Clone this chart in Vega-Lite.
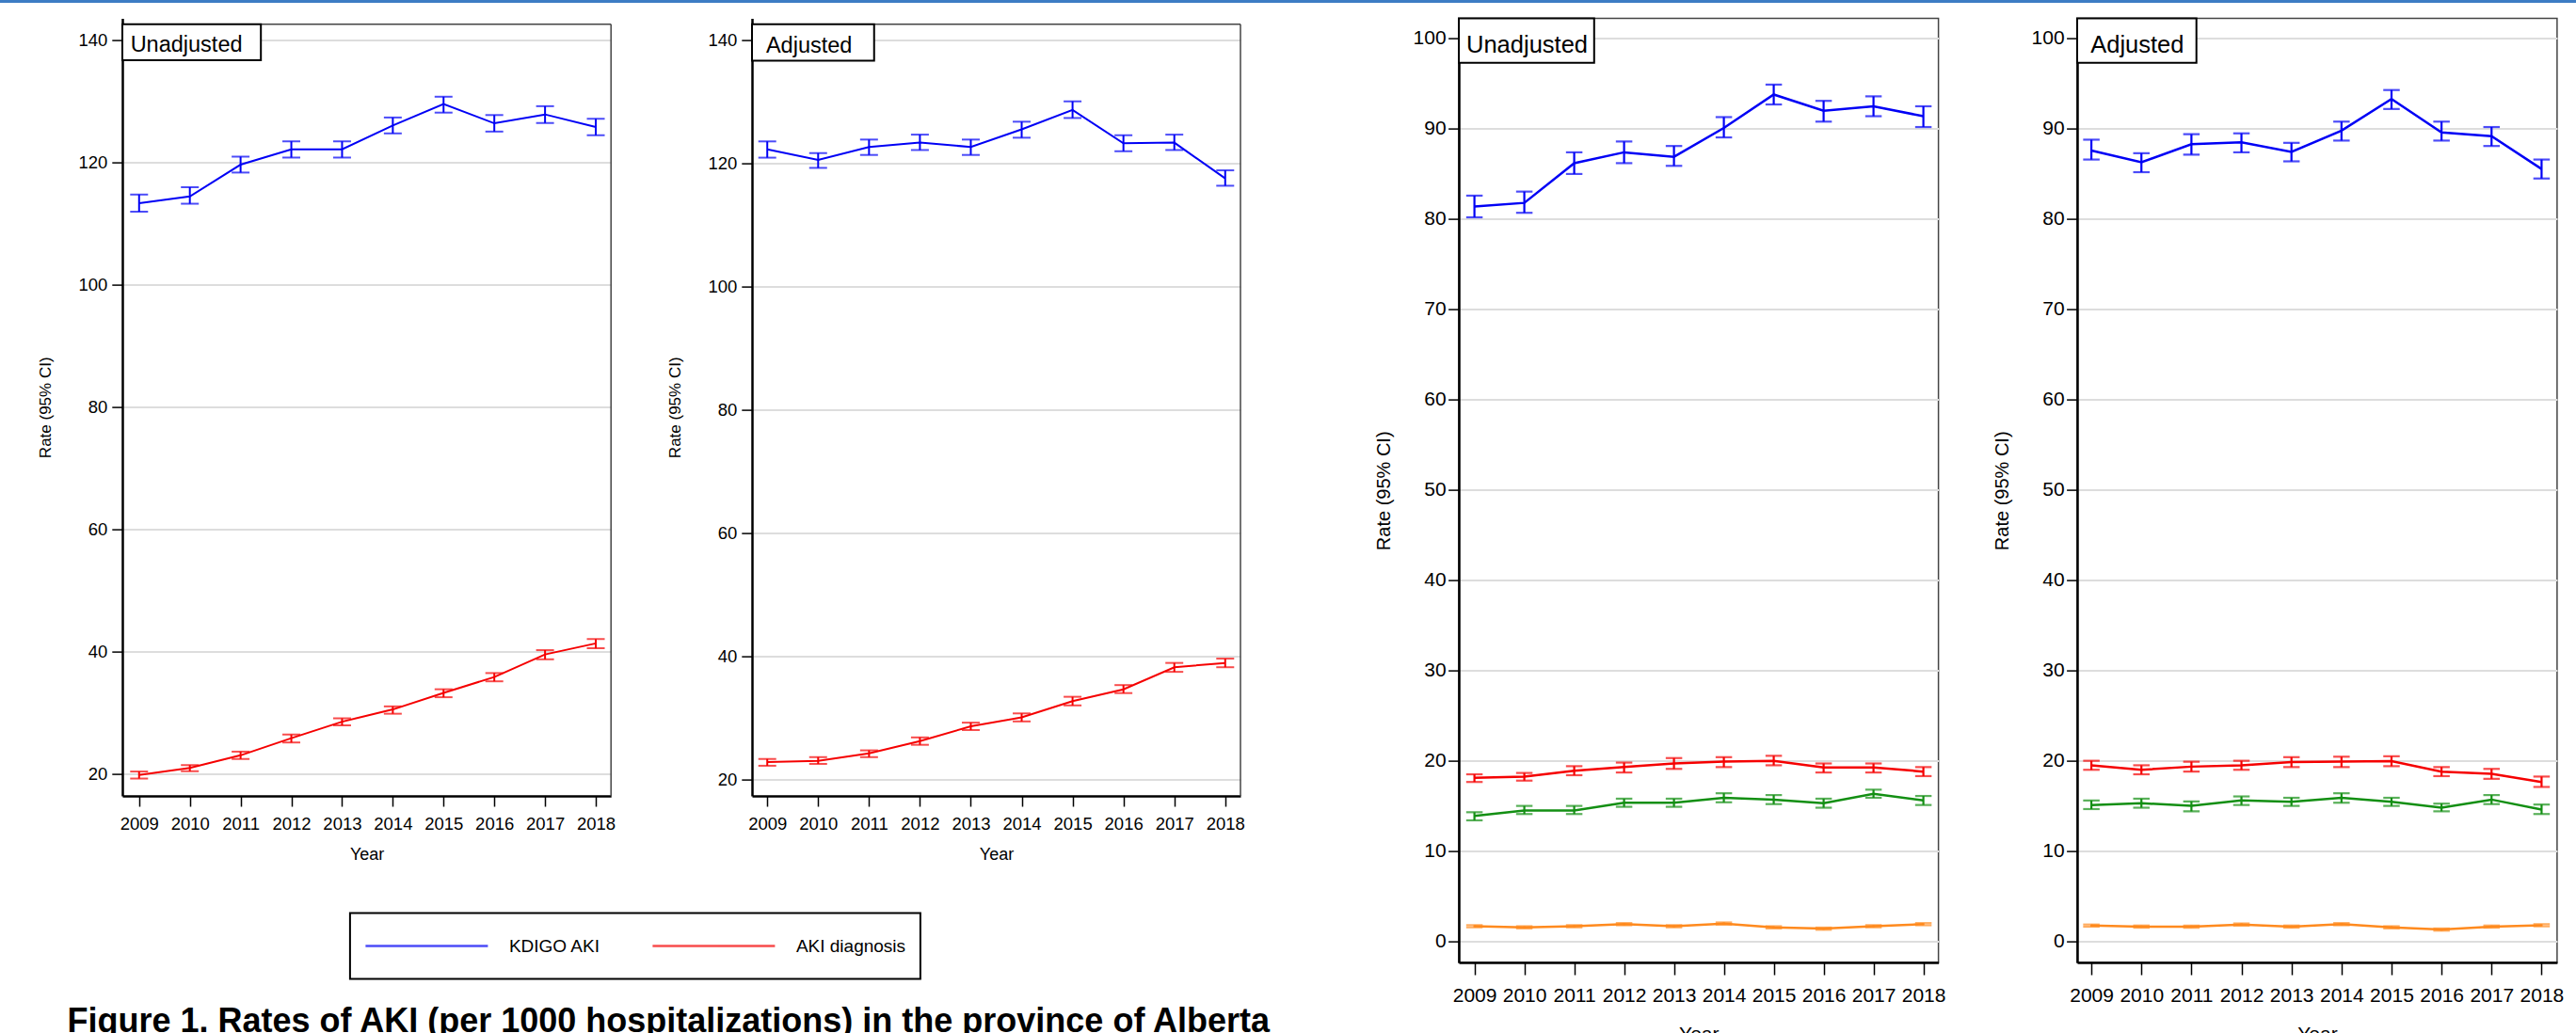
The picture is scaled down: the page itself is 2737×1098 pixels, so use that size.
{
"$schema": "https://vega.github.io/schema/vega-lite/v6.json",
"background": "white",
"padding": 0,
"autosize": {"type": "pad"},
"bounds": "flush",
"spacing": 16.6,
"resolve": {"scale": {"color": "independent"}, "legend": {"color": "independent"}},
"datasets": {
"leftUnadj": [
{"series":"KDIGO AKI","year":2009,"rate":113.4,"lo":112.0,"hi":114.8},
{"series":"KDIGO AKI","year":2010,"rate":114.5,"lo":113.3,"hi":116.0},
{"series":"KDIGO AKI","year":2011,"rate":119.7,"lo":118.4,"hi":121.0},
{"series":"KDIGO AKI","year":2012,"rate":122.2,"lo":120.85,"hi":123.5},
{"series":"KDIGO AKI","year":2013,"rate":122.2,"lo":120.85,"hi":123.5},
{"series":"KDIGO AKI","year":2014,"rate":126.1,"lo":124.8,"hi":127.4},
{"series":"KDIGO AKI","year":2015,"rate":129.6,"lo":128.2,"hi":130.8},
{"series":"KDIGO AKI","year":2016,"rate":126.45,"lo":125.1,"hi":127.8},
{"series":"KDIGO AKI","year":2017,"rate":127.9,"lo":126.5,"hi":129.25},
{"series":"KDIGO AKI","year":2018,"rate":125.85,"lo":124.5,"hi":127.2},
{"series":"AKI diagnosis","year":2009,"rate":19.9,"lo":19.3,"hi":20.45},
{"series":"AKI diagnosis","year":2010,"rate":21.05,"lo":20.5,"hi":21.5},
{"series":"AKI diagnosis","year":2011,"rate":23.1,"lo":22.5,"hi":23.7},
{"series":"AKI diagnosis","year":2012,"rate":25.9,"lo":25.2,"hi":26.5},
{"series":"AKI diagnosis","year":2013,"rate":28.6,"lo":28.0,"hi":29.15},
{"series":"AKI diagnosis","year":2014,"rate":30.6,"lo":29.9,"hi":31.1},
{"series":"AKI diagnosis","year":2015,"rate":33.3,"lo":32.6,"hi":33.9},
{"series":"AKI diagnosis","year":2016,"rate":35.9,"lo":35.2,"hi":36.55},
{"series":"AKI diagnosis","year":2017,"rate":39.6,"lo":38.8,"hi":40.3},
{"series":"AKI diagnosis","year":2018,"rate":41.4,"lo":40.6,"hi":42.1}
],
"leftAdj": [
{"series":"KDIGO AKI","year":2009,"rate":122.3,"lo":120.96,"hi":123.6},
{"series":"KDIGO AKI","year":2010,"rate":120.6,"lo":119.3,"hi":121.7},
{"series":"KDIGO AKI","year":2011,"rate":122.7,"lo":121.4,"hi":123.9},
{"series":"KDIGO AKI","year":2012,"rate":123.4,"lo":122.2,"hi":124.7},
{"series":"KDIGO AKI","year":2013,"rate":122.7,"lo":121.4,"hi":123.9},
{"series":"KDIGO AKI","year":2014,"rate":125.55,"lo":124.2,"hi":126.8},
{"series":"KDIGO AKI","year":2015,"rate":128.7,"lo":127.4,"hi":130.1},
{"series":"KDIGO AKI","year":2016,"rate":123.3,"lo":122.0,"hi":124.6},
{"series":"KDIGO AKI","year":2017,"rate":123.4,"lo":122.2,"hi":124.7},
{"series":"KDIGO AKI","year":2018,"rate":117.6,"lo":116.4,"hi":118.9},
{"series":"AKI diagnosis","year":2009,"rate":22.8,"lo":22.2,"hi":23.3},
{"series":"AKI diagnosis","year":2010,"rate":23.0,"lo":22.5,"hi":23.6},
{"series":"AKI diagnosis","year":2011,"rate":24.2,"lo":23.6,"hi":24.7},
{"series":"AKI diagnosis","year":2012,"rate":26.2,"lo":25.6,"hi":26.8},
{"series":"AKI diagnosis","year":2013,"rate":28.6,"lo":28.0,"hi":29.2},
{"series":"AKI diagnosis","year":2014,"rate":30.05,"lo":29.4,"hi":30.7},
{"series":"AKI diagnosis","year":2015,"rate":32.7,"lo":32.0,"hi":33.4},
{"series":"AKI diagnosis","year":2016,"rate":34.6,"lo":34.0,"hi":35.3},
{"series":"AKI diagnosis","year":2017,"rate":38.2,"lo":37.45,"hi":38.9},
{"series":"AKI diagnosis","year":2018,"rate":38.9,"lo":38.2,"hi":39.6}
],
"rightUnadj": [
{"series":"Stage 1","year":2009,"rate":81.4,"lo":80.2,"hi":82.6},
{"series":"Stage 1","year":2010,"rate":81.8,"lo":80.7,"hi":83.05},
{"series":"Stage 1","year":2011,"rate":86.2,"lo":85.0,"hi":87.4},
{"series":"Stage 1","year":2012,"rate":87.4,"lo":86.2,"hi":88.6},
{"series":"Stage 1","year":2013,"rate":86.9,"lo":85.9,"hi":88.1},
{"series":"Stage 1","year":2014,"rate":90.1,"lo":89.05,"hi":91.3},
{"series":"Stage 1","year":2015,"rate":93.8,"lo":92.7,"hi":94.9},
{"series":"Stage 1","year":2016,"rate":92.0,"lo":90.8,"hi":93.1},
{"series":"Stage 1","year":2017,"rate":92.5,"lo":91.4,"hi":93.6},
{"series":"Stage 1","year":2018,"rate":91.4,"lo":90.2,"hi":92.5},
{"series":"Stage 2","year":2009,"rate":18.1,"lo":17.65,"hi":18.5},
{"series":"Stage 2","year":2010,"rate":18.25,"lo":17.8,"hi":18.65},
{"series":"Stage 2","year":2011,"rate":18.9,"lo":18.4,"hi":19.4},
{"series":"Stage 2","year":2012,"rate":19.3,"lo":18.7,"hi":19.8},
{"series":"Stage 2","year":2013,"rate":19.7,"lo":19.1,"hi":20.3},
{"series":"Stage 2","year":2014,"rate":19.9,"lo":19.3,"hi":20.4},
{"series":"Stage 2","year":2015,"rate":20.0,"lo":19.5,"hi":20.55},
{"series":"Stage 2","year":2016,"rate":19.25,"lo":18.7,"hi":19.7},
{"series":"Stage 2","year":2017,"rate":19.25,"lo":18.7,"hi":19.7},
{"series":"Stage 2","year":2018,"rate":18.8,"lo":18.3,"hi":19.3},
{"series":"Stage 3","year":2009,"rate":13.9,"lo":13.4,"hi":14.3},
{"series":"Stage 3","year":2010,"rate":14.5,"lo":14.1,"hi":15.0},
{"series":"Stage 3","year":2011,"rate":14.5,"lo":14.1,"hi":15.0},
{"series":"Stage 3","year":2012,"rate":15.35,"lo":14.9,"hi":15.8},
{"series":"Stage 3","year":2013,"rate":15.35,"lo":14.9,"hi":15.8},
{"series":"Stage 3","year":2014,"rate":15.9,"lo":15.4,"hi":16.4},
{"series":"Stage 3","year":2015,"rate":15.7,"lo":15.2,"hi":16.2},
{"series":"Stage 3","year":2016,"rate":15.3,"lo":14.8,"hi":15.8},
{"series":"Stage 3","year":2017,"rate":16.35,"lo":15.9,"hi":16.8},
{"series":"Stage 3","year":2018,"rate":15.6,"lo":15.1,"hi":16.1},
{"series":"AKI-D","year":2009,"rate":1.67,"lo":1.55,"hi":1.79},
{"series":"AKI-D","year":2010,"rate":1.55,"lo":1.43,"hi":1.67},
{"series":"AKI-D","year":2011,"rate":1.67,"lo":1.55,"hi":1.79},
{"series":"AKI-D","year":2012,"rate":1.9,"lo":1.78,"hi":2.02},
{"series":"AKI-D","year":2013,"rate":1.67,"lo":1.55,"hi":1.79},
{"series":"AKI-D","year":2014,"rate":1.97,"lo":1.85,"hi":2.09},
{"series":"AKI-D","year":2015,"rate":1.55,"lo":1.43,"hi":1.67},
{"series":"AKI-D","year":2016,"rate":1.4,"lo":1.28,"hi":1.52},
{"series":"AKI-D","year":2017,"rate":1.67,"lo":1.55,"hi":1.79},
{"series":"AKI-D","year":2018,"rate":1.9,"lo":1.78,"hi":2.02}
],
"rightAdj": [
{"series":"Stage 1","year":2009,"rate":87.6,"lo":86.6,"hi":88.8},
{"series":"Stage 1","year":2010,"rate":86.3,"lo":85.2,"hi":87.3},
{"series":"Stage 1","year":2011,"rate":88.3,"lo":87.15,"hi":89.4},
{"series":"Stage 1","year":2012,"rate":88.5,"lo":87.4,"hi":89.5},
{"series":"Stage 1","year":2013,"rate":87.45,"lo":86.4,"hi":88.45},
{"series":"Stage 1","year":2014,"rate":89.8,"lo":88.7,"hi":90.8},
{"series":"Stage 1","year":2015,"rate":93.3,"lo":92.2,"hi":94.3},
{"series":"Stage 1","year":2016,"rate":89.6,"lo":88.7,"hi":90.8},
{"series":"Stage 1","year":2017,"rate":89.2,"lo":88.1,"hi":90.2},
{"series":"Stage 1","year":2018,"rate":85.55,"lo":84.5,"hi":86.6},
{"series":"Stage 2","year":2009,"rate":19.5,"lo":19.0,"hi":20.0},
{"series":"Stage 2","year":2010,"rate":19.0,"lo":18.5,"hi":19.5},
{"series":"Stage 2","year":2011,"rate":19.35,"lo":18.8,"hi":19.9},
{"series":"Stage 2","year":2012,"rate":19.5,"lo":19.0,"hi":20.0},
{"series":"Stage 2","year":2013,"rate":19.85,"lo":19.3,"hi":20.4},
{"series":"Stage 2","year":2014,"rate":19.9,"lo":19.3,"hi":20.45},
{"series":"Stage 2","year":2015,"rate":19.95,"lo":19.4,"hi":20.5},
{"series":"Stage 2","year":2016,"rate":18.8,"lo":18.3,"hi":19.3},
{"series":"Stage 2","year":2017,"rate":18.55,"lo":18.0,"hi":19.1},
{"series":"Stage 2","year":2018,"rate":17.65,"lo":17.1,"hi":18.25},
{"series":"Stage 3","year":2009,"rate":15.1,"lo":14.65,"hi":15.6},
{"series":"Stage 3","year":2010,"rate":15.3,"lo":14.8,"hi":15.8},
{"series":"Stage 3","year":2011,"rate":15.0,"lo":14.4,"hi":15.5},
{"series":"Stage 3","year":2012,"rate":15.6,"lo":15.1,"hi":16.05},
{"series":"Stage 3","year":2013,"rate":15.45,"lo":15.0,"hi":15.9},
{"series":"Stage 3","year":2014,"rate":15.9,"lo":15.35,"hi":16.4},
{"series":"Stage 3","year":2015,"rate":15.45,"lo":15.0,"hi":15.9},
{"series":"Stage 3","year":2016,"rate":14.8,"lo":14.4,"hi":15.25},
{"series":"Stage 3","year":2017,"rate":15.7,"lo":15.2,"hi":16.2},
{"series":"Stage 3","year":2018,"rate":14.6,"lo":14.1,"hi":15.15},
{"series":"AKI-D","year":2009,"rate":1.74,"lo":1.62,"hi":1.86},
{"series":"AKI-D","year":2010,"rate":1.63,"lo":1.51,"hi":1.75},
{"series":"AKI-D","year":2011,"rate":1.63,"lo":1.51,"hi":1.75},
{"series":"AKI-D","year":2012,"rate":1.86,"lo":1.74,"hi":1.98},
{"series":"AKI-D","year":2013,"rate":1.63,"lo":1.51,"hi":1.75},
{"series":"AKI-D","year":2014,"rate":1.9,"lo":1.78,"hi":2.02},
{"series":"AKI-D","year":2015,"rate":1.55,"lo":1.43,"hi":1.67},
{"series":"AKI-D","year":2016,"rate":1.3,"lo":1.18,"hi":1.42},
{"series":"AKI-D","year":2017,"rate":1.63,"lo":1.51,"hi":1.75},
{"series":"AKI-D","year":2018,"rate":1.78,"lo":1.66,"hi":1.9}
]
},
"vconcat": [
{"width": 2737, "height": 3, "data": {"values": []}, "mark": "text", "view": {"fill": "#3d7cc4", "stroke": null}},
{"hconcat": [
 {"width": 128.5, "height": 1, "data": {"values": []}, "mark": "text", "view": {"stroke": null}},
 {"width": 519.2, "height": 826.4, "data": {"name": "leftUnadj"},
  "view": {"stroke": null},
  "title": {"text": "Figure 1. Rates of AKI (per 1000 hospitalizations) in the province of Alberta", "orient": "bottom", "anchor": "start", "frame": "group", "dx": -58.5, "offset": 27, "fontSize": 36, "fontWeight": "bold", "font": "Liberation Sans", "color": "black"},
  "layer": [
   {"mark": {"type": "line", "strokeWidth": 2}, "encoding": {"x": {"field": "year", "type": "quantitative", "title": "Year", "scale": {"domain": [2008.67, 2018.3], "nice": false, "zero": false}, "axis": {"values": [2009,2010,2011,2012,2013,2014,2015,2016,2017,2018], "format": "d", "grid": false, "tickSize": 11, "labelPadding": 9, "labelFontSize": 18.5, "titleFontSize": 18, "titlePadding": 15}}, "y": {"field": "rate", "type": "quantitative", "title": "Rate (95% CI)", "scale": {"domain": [16.46, 143.6], "nice": false, "zero": false}, "axis": {"values": [20,40,60,80,100,120,140], "grid": true, "tickSize": 11.2, "labelPadding": 5, "labelFontSize": 18.5, "titleFontSize": 17, "titlePadding": 25}}, "color": {"field": "series", "type": "nominal", "scale": {"domain": ["KDIGO AKI","AKI diagnosis"], "range": ["#0000f5","#f50000"]}, "legend": {"orient": "none", "legendX": 241.9, "legendY": 951, "direction": "horizontal", "title": null, "symbolType": "stroke", "symbolSize": 16900, "symbolStrokeWidth": 2.5, "clipHeight": 39.4, "padding": 15, "columnPadding": 53, "labelOffset": 21, "labelFontSize": 19, "labelColor": "black", "labelLimit": 300, "strokeColor": "black"}}}},
   {"mark": {"type": "rule", "strokeWidth": 2}, "encoding": {"x": {"field": "year", "type": "quantitative"}, "y": {"field": "lo", "type": "quantitative"}, "y2": {"field": "hi"}, "color": {"field": "series", "type": "nominal"}}},
   {"mark": {"type": "tick", "orient": "horizontal", "size": 19, "thickness": 2}, "encoding": {"x": {"field": "year", "type": "quantitative"}, "y": {"field": "lo", "type": "quantitative"}, "color": {"field": "series", "type": "nominal"}}},
   {"mark": {"type": "tick", "orient": "horizontal", "size": 19, "thickness": 2}, "encoding": {"x": {"field": "year", "type": "quantitative"}, "y": {"field": "hi", "type": "quantitative"}, "color": {"field": "series", "type": "nominal"}}},
   {"transform": [{"filter": "datum.year == 2009 && datum.series == 'KDIGO AKI'"}], "mark": {"type": "rule", "color": "#444444", "strokeWidth": 1.5}, "encoding": {"x": {"datum": 2008.67, "type": "quantitative"}, "x2": {"datum": 2018.3}, "y": {"datum": 142.66, "type": "quantitative"}}},
   {"transform": [{"filter": "datum.year == 2009 && datum.series == 'KDIGO AKI'"}], "mark": {"type": "rule", "color": "#444444", "strokeWidth": 1.5}, "encoding": {"x": {"datum": 2018.3, "type": "quantitative"}, "y": {"datum": 142.66, "type": "quantitative"}, "y2": {"datum": 16.46}}},
   {"transform": [{"filter": "datum.year == 2009 && datum.series == 'KDIGO AKI'"}], "mark": {"type": "rect", "fill": "white", "stroke": "black", "strokeWidth": 2}, "encoding": {"x": {"datum": 2008.67, "type": "quantitative"}, "x2": {"datum": 2011.40}, "y": {"datum": 142.66, "type": "quantitative"}, "y2": {"datum": 136.77}}},
   {"transform": [{"filter": "datum.year == 2009 && datum.series == 'KDIGO AKI'"}], "mark": {"type": "text", "align": "left", "baseline": "alphabetic", "fontSize": 23.5, "color": "black"}, "encoding": {"x": {"datum": 2008.83, "type": "quantitative"}, "y": {"datum": 138.15, "type": "quantitative"}, "text": {"value": "Unadjusted"}}}
  ]},
 {"width": 146.3, "height": 1, "data": {"values": []}, "mark": "text", "view": {"stroke": null}},
 {"width": 519, "height": 826.4, "data": {"name": "leftAdj"},
  "view": {"stroke": null},
  "layer": [
   {"mark": {"type": "line", "strokeWidth": 2}, "encoding": {"x": {"field": "year", "type": "quantitative", "title": "Year", "scale": {"domain": [2008.70, 2018.3], "nice": false, "zero": false}, "axis": {"values": [2009,2010,2011,2012,2013,2014,2015,2016,2017,2018], "format": "d", "grid": false, "tickSize": 11, "labelPadding": 9, "labelFontSize": 18.5, "titleFontSize": 18, "titlePadding": 15}}, "y": {"field": "rate", "type": "quantitative", "title": "Rate (95% CI)", "scale": {"domain": [17.3, 143.57], "nice": false, "zero": false}, "axis": {"values": [20,40,60,80,100,120,140], "grid": true, "tickSize": 11.2, "labelPadding": 5, "labelFontSize": 18.5, "titleFontSize": 17, "titlePadding": 25}}, "color": {"field": "series", "type": "nominal", "scale": {"domain": ["KDIGO AKI","AKI diagnosis"], "range": ["#0000f5","#f50000"]}, "legend": null}}},
   {"mark": {"type": "rule", "strokeWidth": 2}, "encoding": {"x": {"field": "year", "type": "quantitative"}, "y": {"field": "lo", "type": "quantitative"}, "y2": {"field": "hi"}, "color": {"field": "series", "type": "nominal", "legend": null}}},
   {"mark": {"type": "tick", "orient": "horizontal", "size": 19, "thickness": 2}, "encoding": {"x": {"field": "year", "type": "quantitative"}, "y": {"field": "lo", "type": "quantitative"}, "color": {"field": "series", "type": "nominal", "legend": null}}},
   {"mark": {"type": "tick", "orient": "horizontal", "size": 19, "thickness": 2}, "encoding": {"x": {"field": "year", "type": "quantitative"}, "y": {"field": "hi", "type": "quantitative"}, "color": {"field": "series", "type": "nominal", "legend": null}}},
   {"transform": [{"filter": "datum.year == 2009 && datum.series == 'KDIGO AKI'"}], "mark": {"type": "rule", "color": "#444444", "strokeWidth": 1.5}, "encoding": {"x": {"datum": 2008.70, "type": "quantitative"}, "x2": {"datum": 2018.3}, "y": {"datum": 142.64, "type": "quantitative"}}},
   {"transform": [{"filter": "datum.year == 2009 && datum.series == 'KDIGO AKI'"}], "mark": {"type": "rule", "color": "#444444", "strokeWidth": 1.5}, "encoding": {"x": {"datum": 2018.3, "type": "quantitative"}, "y": {"datum": 142.64, "type": "quantitative"}, "y2": {"datum": 17.3}}},
   {"transform": [{"filter": "datum.year == 2009 && datum.series == 'KDIGO AKI'"}], "mark": {"type": "rect", "fill": "white", "stroke": "black", "strokeWidth": 2}, "encoding": {"x": {"datum": 2008.70, "type": "quantitative"}, "x2": {"datum": 2011.10}, "y": {"datum": 142.64, "type": "quantitative"}, "y2": {"datum": 136.70}}},
   {"transform": [{"filter": "datum.year == 2009 && datum.series == 'KDIGO AKI'"}], "mark": {"type": "text", "align": "left", "baseline": "alphabetic", "fontSize": 23.5, "color": "black"}, "encoding": {"x": {"datum": 2008.976, "type": "quantitative"}, "y": {"datum": 138.01, "type": "quantitative"}, "text": {"value": "Adjusted"}}}
  ]},
 {"width": 229.4, "height": 1, "data": {"values": []}, "mark": "text", "view": {"stroke": null}},
 {"width": 509.6, "height": 1003.4, "data": {"name": "rightUnadj"},
  "layer": [
   {"mark": {"type": "line", "strokeWidth": 2.5}, "encoding": {"x": {"field": "year", "type": "quantitative", "title": "Year", "scale": {"domain": [2008.687, 2018.302], "nice": false, "zero": false}, "axis": {"values": [2009,2010,2011,2012,2013,2014,2015,2016,2017,2018], "format": "d", "grid": false, "tickSize": 13, "labelPadding": 11.4, "labelFontSize": 21, "titleFontSize": 21, "titlePadding": 20}}, "y": {"field": "rate", "type": "quantitative", "title": "Rate (95% CI)", "scale": {"domain": [-2.34, 102.23], "nice": false, "zero": false}, "axis": {"values": [0,10,20,30,40,50,60,70,80,90,100], "grid": true, "tickSize": 11.4, "labelPadding": 2.5, "labelFontSize": 21, "titleFontSize": 20, "titlePadding": 21}}, "color": {"field": "series", "type": "nominal", "scale": {"domain": ["Stage 1","Stage 2","Stage 3","AKI-D"], "range": ["#0000f5","#f50000","#138f13","#ff8a1e"]}, "legend": null}}},
   {"mark": {"type": "rule", "strokeWidth": 2.2}, "encoding": {"x": {"field": "year", "type": "quantitative"}, "y": {"field": "lo", "type": "quantitative"}, "y2": {"field": "hi"}, "color": {"field": "series", "type": "nominal", "legend": null}}},
   {"mark": {"type": "tick", "orient": "horizontal", "size": 17.5, "thickness": 2.2}, "encoding": {"x": {"field": "year", "type": "quantitative"}, "y": {"field": "lo", "type": "quantitative"}, "color": {"field": "series", "type": "nominal", "legend": null}}},
   {"mark": {"type": "tick", "orient": "horizontal", "size": 17.5, "thickness": 2.2}, "encoding": {"x": {"field": "year", "type": "quantitative"}, "y": {"field": "hi", "type": "quantitative"}, "color": {"field": "series", "type": "nominal", "legend": null}}},
   {"transform": [{"filter": "datum.year == 2009 && datum.series == 'Stage 1'"}], "mark": {"type": "rect", "fill": "white", "stroke": "black", "strokeWidth": 2}, "encoding": {"x": {"datum": 2008.687, "type": "quantitative"}, "x2": {"datum": 2011.40}, "y": {"datum": 102.23, "type": "quantitative"}, "y2": {"datum": 97.31}}},
   {"transform": [{"filter": "datum.year == 2009 && datum.series == 'Stage 1'"}], "mark": {"type": "text", "align": "left", "baseline": "alphabetic", "fontSize": 25.5, "color": "black"}, "encoding": {"x": {"datum": 2008.838, "type": "quantitative"}, "y": {"datum": 98.44, "type": "quantitative"}, "text": {"value": "Unadjusted"}}}
  ]},
 {"width": 144.6, "height": 1, "data": {"values": []}, "mark": "text", "view": {"stroke": null}},
 {"width": 509.9, "height": 1003.4, "data": {"name": "rightAdj"},
  "layer": [
   {"mark": {"type": "line", "strokeWidth": 2.5}, "encoding": {"x": {"field": "year", "type": "quantitative", "title": "Year", "scale": {"domain": [2008.716, 2018.31], "nice": false, "zero": false}, "axis": {"values": [2009,2010,2011,2012,2013,2014,2015,2016,2017,2018], "format": "d", "grid": false, "tickSize": 13, "labelPadding": 11.4, "labelFontSize": 21, "titleFontSize": 21, "titlePadding": 20}}, "y": {"field": "rate", "type": "quantitative", "title": "Rate (95% CI)", "scale": {"domain": [-2.34, 102.23], "nice": false, "zero": false}, "axis": {"values": [0,10,20,30,40,50,60,70,80,90,100], "grid": true, "tickSize": 11.4, "labelPadding": 2.5, "labelFontSize": 21, "titleFontSize": 20, "titlePadding": 21}}, "color": {"field": "series", "type": "nominal", "scale": {"domain": ["Stage 1","Stage 2","Stage 3","AKI-D"], "range": ["#0000f5","#f50000","#138f13","#ff8a1e"]}, "legend": null}}},
   {"mark": {"type": "rule", "strokeWidth": 2.2}, "encoding": {"x": {"field": "year", "type": "quantitative"}, "y": {"field": "lo", "type": "quantitative"}, "y2": {"field": "hi"}, "color": {"field": "series", "type": "nominal", "legend": null}}},
   {"mark": {"type": "tick", "orient": "horizontal", "size": 17.5, "thickness": 2.2}, "encoding": {"x": {"field": "year", "type": "quantitative"}, "y": {"field": "lo", "type": "quantitative"}, "color": {"field": "series", "type": "nominal", "legend": null}}},
   {"mark": {"type": "tick", "orient": "horizontal", "size": 17.5, "thickness": 2.2}, "encoding": {"x": {"field": "year", "type": "quantitative"}, "y": {"field": "hi", "type": "quantitative"}, "color": {"field": "series", "type": "nominal", "legend": null}}},
   {"transform": [{"filter": "datum.year == 2009 && datum.series == 'Stage 1'"}], "mark": {"type": "rect", "fill": "white", "stroke": "black", "strokeWidth": 2}, "encoding": {"x": {"datum": 2008.716, "type": "quantitative"}, "x2": {"datum": 2011.10}, "y": {"datum": 102.23, "type": "quantitative"}, "y2": {"datum": 97.31}}},
   {"transform": [{"filter": "datum.year == 2009 && datum.series == 'Stage 1'"}], "mark": {"type": "text", "align": "left", "baseline": "alphabetic", "fontSize": 25.5, "color": "black"}, "encoding": {"x": {"datum": 2008.983, "type": "quantitative"}, "y": {"datum": 98.44, "type": "quantitative"}, "text": {"value": "Adjusted"}}}
  ]}
], "spacing": 1, "bounds": "flush", "resolve": {"scale": {"color": "independent"}, "legend": {"color": "independent"}}}
],
"config": {
 "font": "Liberation Sans",
 "view": {"stroke": "#444444", "strokeWidth": 1.5},
 "axis": {"domainColor": "#000000", "domainWidth": 2.5, "tickColor": "#000000", "tickWidth": 1.5, "labelColor": "#000000", "titleColor": "#000000", "titleFontWeight": "normal", "gridColor": "#dddddd", "gridWidth": 2, "labelFlush": false, "labelOverlap": false, "labelFont": "Liberation Sans", "titleFont": "Liberation Sans"},
 "legend": {"strokeWidth": 2},
 "title": {"font": "Liberation Sans"}
}
}
